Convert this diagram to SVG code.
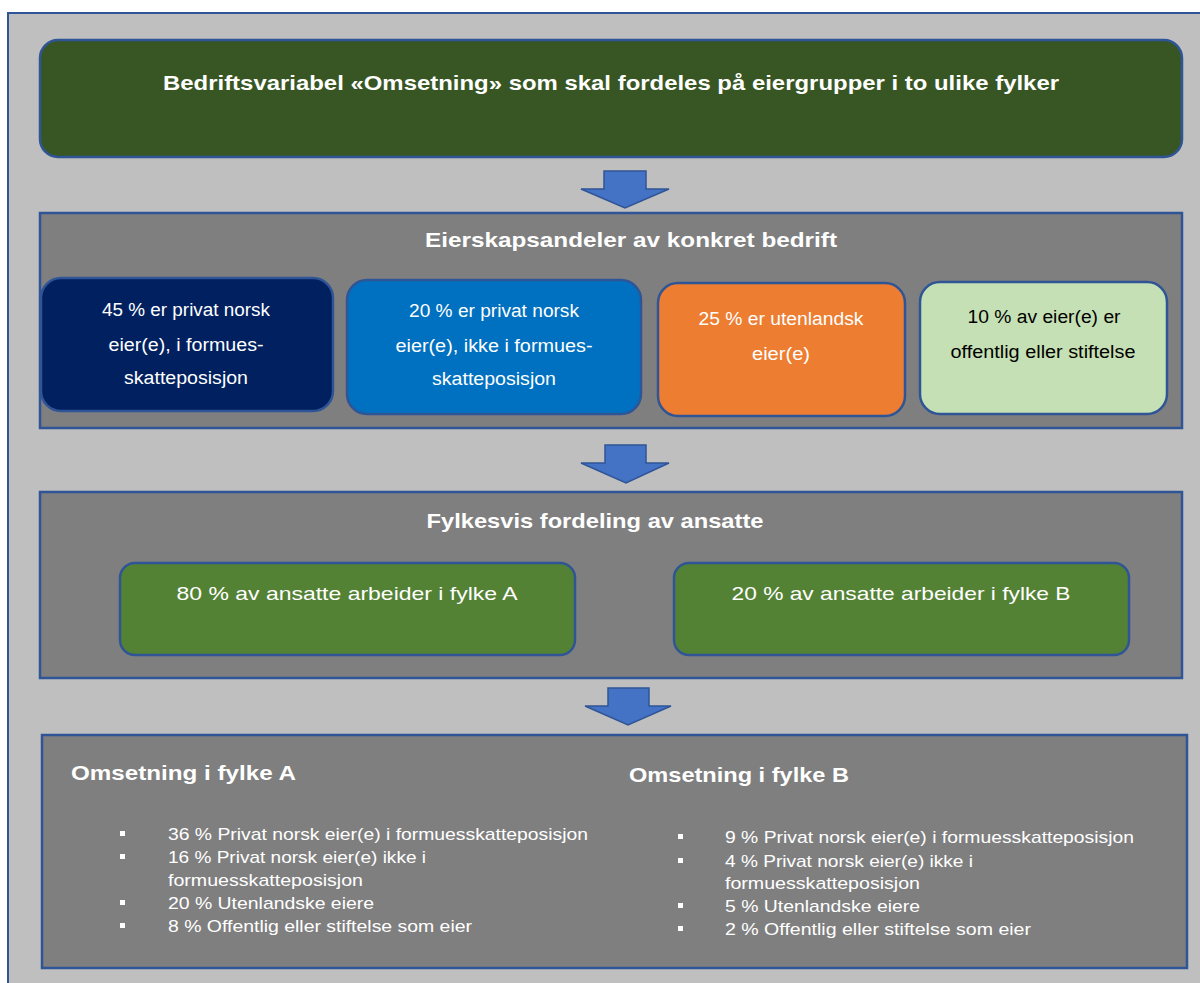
<svg xmlns="http://www.w3.org/2000/svg" width="1200" height="983" viewBox="0 0 1200 983">
<style>
text{font-family:"Liberation Sans",Arial,sans-serif;fill:#fff}
.b{font-weight:bold}
.t{font-size:21px;font-weight:bold}
.s{font-size:18px}
.g{font-size:19px}
.l{font-size:17px}
.dk{fill:#000}
.box{stroke:#2F5597;stroke-width:2.5}
.sec{fill:#7F7F7F;stroke:#2F5597;stroke-width:2.5}
.arr{fill:#4472C4;stroke:#2F5597;stroke-width:1.5}
.bul{fill:#fff}
</style>
<rect x="0" y="0" width="1200" height="983" fill="#fff"/>
<rect x="8" y="13" width="1210" height="1000" fill="#BFBFBF" stroke="#2F5597" stroke-width="2"/>

<g id="connectors">
<polygon class="arr" points="604,171 646,171 646,189 669,189 625,208 581,189 604,189"/>
<polygon class="arr" points="605,445 646,445 646,463 669,463 626,483 581,463 605,463"/>
<polygon class="arr" points="608,688 649,688 649,706 671,706 628,725 585,706 608,706"/>
</g>

<g id="top">
<rect class="box" x="40" y="40" width="1142" height="117" rx="18" fill="#375623"/>
<text class="t" x="611" y="90" text-anchor="middle" textLength="896" lengthAdjust="spacingAndGlyphs">Bedriftsvariabel «Omsetning» som skal fordeles på eiergrupper i to ulike fylker</text>
</g>

<g id="eierskap">
<rect class="sec" x="40" y="213" width="1142" height="215"/>
<text class="t" x="631" y="247" text-anchor="middle" textLength="412" lengthAdjust="spacingAndGlyphs">Eierskapsandeler av konkret bedrift</text>
</g>

<g id="eier1">
<rect class="box" x="41" y="278" width="292" height="133" rx="20" fill="#002060"/>
<text class="s" x="186" y="316" text-anchor="middle" textLength="168" lengthAdjust="spacingAndGlyphs">45 % er privat norsk</text>
<text class="s" x="186" y="351" text-anchor="middle" textLength="155" lengthAdjust="spacingAndGlyphs">eier(e), i formues-</text>
<text class="s" x="186" y="384" text-anchor="middle" textLength="124" lengthAdjust="spacingAndGlyphs">skatteposisjon</text>
</g>

<g id="eier2">
<rect class="box" x="347" y="280" width="294" height="134" rx="20" fill="#0070C0"/>
<text class="s" x="494" y="317" text-anchor="middle" textLength="170" lengthAdjust="spacingAndGlyphs">20 % er privat norsk</text>
<text class="s" x="494" y="352" text-anchor="middle" textLength="197" lengthAdjust="spacingAndGlyphs">eier(e), ikke i formues-</text>
<text class="s" x="494" y="385" text-anchor="middle" textLength="124" lengthAdjust="spacingAndGlyphs">skatteposisjon</text>
</g>

<g id="eier3">
<rect class="box" x="658" y="283" width="247" height="133" rx="20" fill="#ED7D31"/>
<text class="s" x="781" y="325" text-anchor="middle" textLength="165" lengthAdjust="spacingAndGlyphs">25 % er utenlandsk</text>
<text class="s" x="781" y="360" text-anchor="middle" textLength="58" lengthAdjust="spacingAndGlyphs">eier(e)</text>
</g>

<g id="eier4">
<rect class="box" x="920" y="282" width="247" height="132" rx="20" fill="#C5E0B4"/>
<text class="s dk" x="1044" y="323" text-anchor="middle" textLength="153" lengthAdjust="spacingAndGlyphs">10 % av eier(e) er</text>
<text class="s dk" x="1043" y="358" text-anchor="middle" textLength="185" lengthAdjust="spacingAndGlyphs">offentlig eller stiftelse</text>
</g>

<g id="fylkesvis">
<rect class="sec" x="40" y="492" width="1142" height="186"/>
<text class="t" x="595" y="528" text-anchor="middle" textLength="337" lengthAdjust="spacingAndGlyphs">Fylkesvis fordeling av ansatte</text>
</g>

<g id="fylkeA">
<rect class="box" x="120" y="563" width="455" height="92" rx="15" fill="#548235"/>
<text class="g" x="347" y="600" text-anchor="middle" textLength="341" lengthAdjust="spacingAndGlyphs">80 % av ansatte arbeider i fylke A</text>
</g>

<g id="fylkeB">
<rect class="box" x="674" y="563" width="455" height="92" rx="15" fill="#548235"/>
<text class="g" x="901" y="600" text-anchor="middle" textLength="339" lengthAdjust="spacingAndGlyphs">20 % av ansatte arbeider i fylke B</text>
</g>

<g id="omsetning">
<rect class="sec" x="42" y="735" width="1145" height="233" stroke-width="3"/>
<text class="t" x="71" y="780" textLength="225" lengthAdjust="spacingAndGlyphs">Omsetning i fylke A</text>
<rect class="bul" x="120" y="831" width="5" height="5"/>
<rect class="bul" x="120" y="854" width="5" height="5"/>
<rect class="bul" x="120" y="900" width="5" height="5"/>
<rect class="bul" x="120" y="923" width="5" height="5"/>
<text class="l" x="168" y="840" textLength="420" lengthAdjust="spacingAndGlyphs">36 % Privat norsk eier(e) i formuesskatteposisjon</text>
<text class="l" x="168" y="863" textLength="258" lengthAdjust="spacingAndGlyphs">16 % Privat norsk eier(e) ikke i</text>
<text class="l" x="168" y="886" textLength="195" lengthAdjust="spacingAndGlyphs">formuesskatteposisjon</text>
<text class="l" x="168" y="909" textLength="206" lengthAdjust="spacingAndGlyphs">20 % Utenlandske eiere</text>
<text class="l" x="168" y="932" textLength="304" lengthAdjust="spacingAndGlyphs">8 % Offentlig eller stiftelse som eier</text>

<text class="t" x="629" y="782" textLength="220" lengthAdjust="spacingAndGlyphs">Omsetning i fylke B</text>
<rect class="bul" x="678" y="834" width="5" height="5"/>
<rect class="bul" x="678" y="858" width="5" height="5"/>
<rect class="bul" x="678" y="903" width="5" height="5"/>
<rect class="bul" x="678" y="926" width="5" height="5"/>
<text class="l" x="725" y="843" textLength="409" lengthAdjust="spacingAndGlyphs">9 % Privat norsk eier(e) i formuesskatteposisjon</text>
<text class="l" x="725" y="867" textLength="248" lengthAdjust="spacingAndGlyphs">4 % Privat norsk eier(e) ikke i</text>
<text class="l" x="725" y="889" textLength="195" lengthAdjust="spacingAndGlyphs">formuesskatteposisjon</text>
<text class="l" x="725" y="912" textLength="195" lengthAdjust="spacingAndGlyphs">5 % Utenlandske eiere</text>
<text class="l" x="725" y="935" textLength="306" lengthAdjust="spacingAndGlyphs">2 % Offentlig eller stiftelse som eier</text>
</g>
</svg>
